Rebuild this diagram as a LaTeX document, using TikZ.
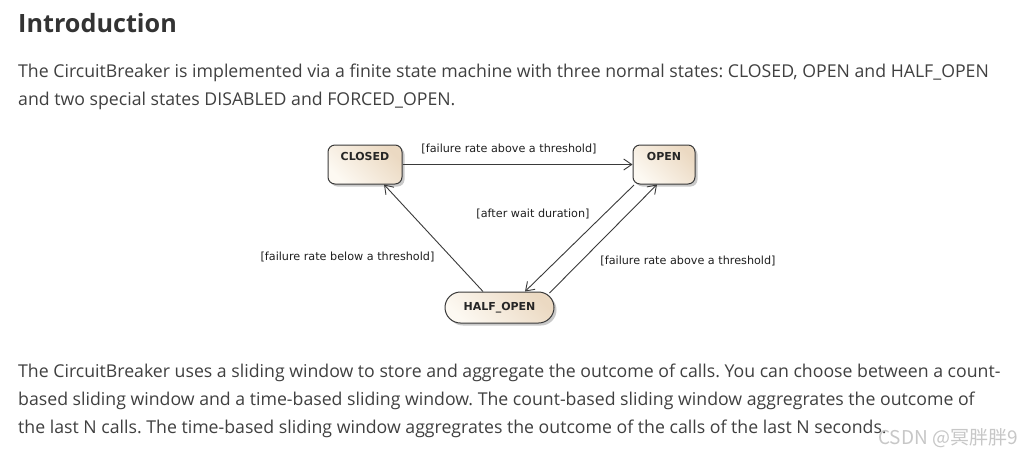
\documentclass[tikz,border=0pt]{standalone}
\usepackage{fontspec}
\setmainfont{Open Sans}
\newfontfamily\labfont{DejaVu Sans}
\newfontfamily\cjk{Noto Sans CJK SC}
\usetikzlibrary{arrows.meta,shadows}
\definecolor{bodytext}{HTML}{404040}
\definecolor{headtext}{HTML}{333333}
\definecolor{stroke}{HTML}{3A3A3A}
\definecolor{beigeA}{HTML}{FDF9F2}
\definecolor{beigeB}{HTML}{EBD9C2}
\frenchspacing
\begin{document}
\begin{tikzpicture}[x=1pt,y=-1pt,
  para/.style={anchor=base west,inner sep=0pt,text=bodytext,font=\fontsize{17.7}{20}\selectfont},
  state/.style={draw=stroke,line width=1pt,rounded corners=7pt,
    left color=beigeA,right color=beigeB,shading angle=135,
    drop shadow={shadow xshift=2.5pt,shadow yshift=-2.5pt,fill=black!35,opacity=0.6},
    inner sep=0pt,font=\labfont\bfseries\fontsize{11}{13}\selectfont,text=black!85},
  glabel/.style={inner sep=0pt,text=black!88,font=\labfont\fontsize{11.2}{13}\selectfont},
  trans/.style={draw=stroke,line width=0.9pt,-{Straight Barb[length=8pt,width=11pt]}}
]
\useasboundingbox[fill=white] (0,0) rectangle (1021,456);
% heading and text
\node[anchor=base west,inner sep=0pt,text=headtext,font=\bfseries\fontsize{25.2}{30}\selectfont] (head) at (18,32) {Introduction};
\node[para] (p1) at (18,77) {The CircuitBreaker is implemented via a finite state machine with three normal states: CLOSED, OPEN and HALF\_OPEN};
\node[para] (p2) at (18,105) {and two special states DISABLED and FORCED\_OPEN.};
\node[para] (q1) at (18,377) {The CircuitBreaker uses a sliding window to store and aggregate the outcome of calls. You can choose between a count-};
\node[para] (q2) at (18,405) {based sliding window and a time-based sliding window. The count-based sliding window aggregrates the outcome of};
\node[para] (q3) at (18,433) {the last N calls. The time-based sliding window aggregrates the outcome of the calls of the last N seconds.};
\node[anchor=base east,inner sep=0pt,text=black!22,font=\cjk\fontsize{19}{22}\selectfont] (wm) at (1018,444) {CSDN @冥胖胖9};
% states
\node[state,minimum width=74pt,text height=15.5pt,text depth=23.5pt] (closed) at (365,164.5) {CLOSED};
\node[state,minimum width=62pt,text height=15.5pt,text depth=23.5pt] (open) at (664,164.5) {OPEN};
\node[state,rounded corners=15.5pt,minimum width=109pt,minimum height=31pt] (half) at (499.5,307.5) {HALF\_OPEN};
% transitions
\draw[trans] (closed.east) -- (open.west);
\draw[trans] ([xshift=-16.5pt]half.north) -- ([xshift=19pt]closed.south);
\draw[trans] ([xshift=-30pt,yshift=-0.5pt]open.south) -- ([xshift=25.5pt]half.north);
\draw[trans] ([xshift=50pt,yshift=-1.5pt]half.north) -- ([xshift=-7pt]open.south);
% labels
\node[glabel] (l1) at (509,149) {[failure rate above a threshold]};
\node[glabel] (l2) at (533,214) {[after wait duration]};
\node[glabel] (l3) at (347.5,257) {[failure rate below a threshold]};
\node[glabel] (l4) at (688,261) {[failure rate above a threshold]};
\end{tikzpicture}
\end{document}
